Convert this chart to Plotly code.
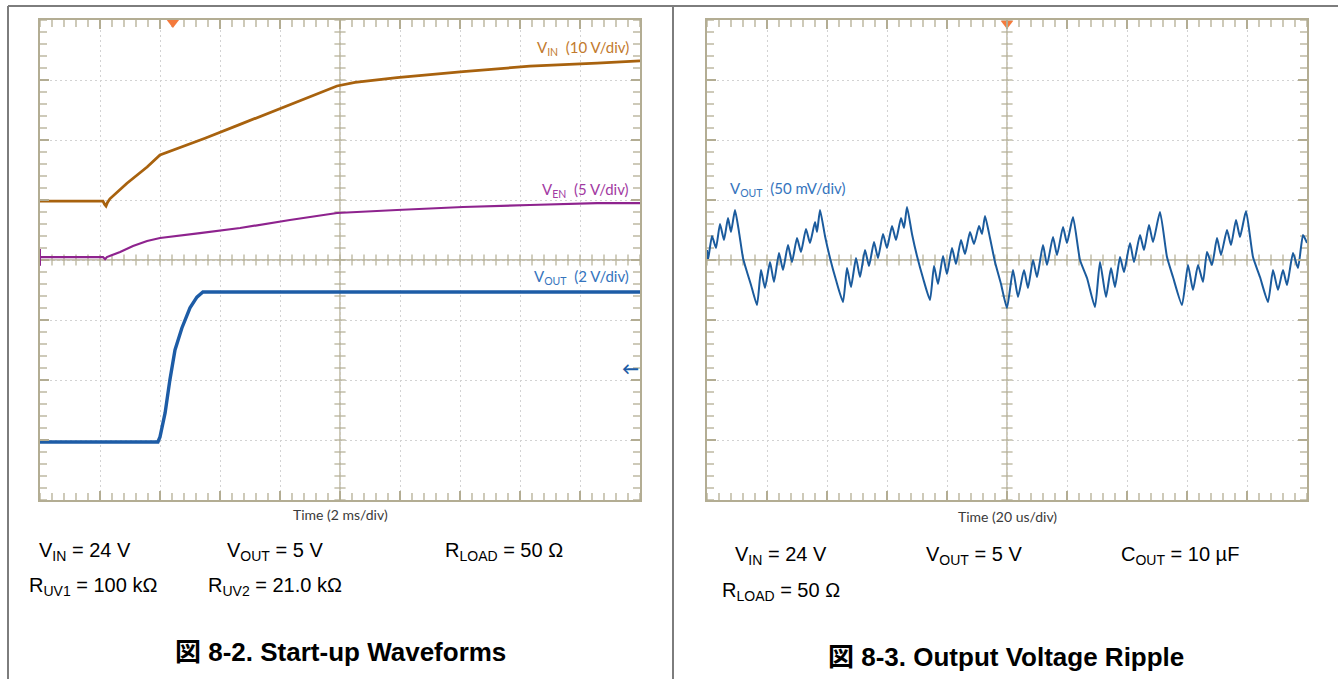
import numpy as np
import plotly.graph_objects as go

W, H = 1338, 679

# ---------------- Start-up capture (time in ms, volts) ----------------
vin_t = [0.0, 2.1, 2.15, 2.2, 2.25, 2.33, 2.9, 3.57, 4.0, 4.33, 5.5, 6.67, 8.3, 9.9,
         10.5, 11.9, 14.1, 16.33, 18.57, 20.0]
vin_v = [0.8, 0.8, 0.3, 0.0, 0.6, 1.2, 3.8, 6.5, 8.5, 9.1, 11.3, 13.6, 16.85, 20.0,
         20.6, 21.4, 22.4, 23.3, 23.8, 24.2]

ven_t = [0.0, 2.1, 2.17, 2.23, 2.67, 3.1, 3.57, 4.0, 5.33, 6.67, 8.33, 9.9,
         11.9, 14.1, 16.33, 18.57, 20.0]
ven_v = [0.08, 0.08, -0.1, 0.08, 0.5, 1.0, 1.42, 1.67, 2.08, 2.5, 3.17, 3.75,
         4.0, 4.25, 4.42, 4.58, 4.58]

vout_t = [0.0, 3.93, 4.0, 4.17, 4.33, 4.5, 4.73, 5.0, 5.23, 5.43, 20.0]
vout_v = [0.0, 0.0, 0.17, 0.97, 2.07, 3.07, 3.8, 4.47, 4.83, 5.0, 5.0]

# channel settings: volts per division and ground level (divisions from bottom)
VIN_SCALE, VIN_POS = 10.0, 4.9
VEN_SCALE, VEN_POS = 5.0, 4.033
VOUT_SCALE, VOUT_POS = 2.0, 0.967

# ---------------- Ripple capture (time in us, AC-coupled mV) ----------------
rip_t = [0.0, 0.33, 1.67, 3.0, 4.33, 5.67, 7.0, 8.0, 9.33, 10.67, 12.0, 13.33, 14.67, 16.67,
         18.0, 19.33, 21.0, 22.33, 24.0, 25.33, 27.0, 28.33, 30.0, 31.33, 33.0, 34.33, 36.0,
         36.67, 37.67, 39.33, 41.0, 43.0, 45.33,
         46.67, 48.0, 49.67, 51.0, 52.67, 54.0, 55.67, 57.0, 58.67, 60.0, 61.67, 63.0, 64.67,
         65.67, 66.67, 68.33, 70.0, 72.0, 74.33,
         75.67, 77.0, 78.67, 80.0, 81.67, 83.0, 84.67, 86.0, 87.67, 89.0, 90.67, 91.67, 92.67,
         94.33, 96.0, 98.0, 100.0,
         102.0, 103.67, 105.67, 107.0, 108.67, 110.0, 112.0, 113.33, 115.33, 116.67, 118.67,
         120.0, 122.0, 124.33, 126.67, 129.33,
         131.0, 133.0, 134.67, 136.0, 137.67, 139.0, 141.0, 142.33, 144.33, 145.67, 147.33,
         148.67, 151.0, 153.33, 155.33, 158.33,
         160.33, 162.0, 163.67, 165.33, 166.67, 168.33, 170.0, 171.33, 173.33, 174.67, 176.33,
         177.67, 179.67, 182.0, 184.33, 187.0,
         188.67, 190.33, 192.0, 193.33, 195.33, 197.0, 198.67, 200.0]
rip_mv = [8.3, 0.0, 20.0, 10.0, 30.0, 16.7, 35.0, 23.3, 41.7, 23.3, 1.7, -10.0, -20.8, -37.5,
          -8.3, -23.3, -1.7, -18.3, 5.8, -8.3, 12.5, -1.7, 18.3, 6.7, 25.8, 14.2, 31.7,
          23.3, 41.7, 20.0, 1.7, -16.7, -35.0,
          -6.7, -22.5, 1.7, -14.2, 8.3, -5.0, 15.0, 1.7, 21.7, 10.0, 28.3, 16.7, 35.0,
          26.7, 44.2, 21.7, 3.3, -15.0, -33.3,
          -5.0, -20.0, 3.3, -11.7, 10.0, -3.3, 16.7, 5.0, 23.3, 13.3, 28.3, 21.7, 36.7,
          18.3, -1.7, -20.0, -40.0,
          -8.3, -30.8, -8.3, -23.3, 0.0, -14.2, 12.5, -4.2, 19.2, 4.2, 27.5,
          14.2, 35.8, 0.0, -15.0, -39.2,
          -1.7, -30.8, -6.7, -22.5, 2.5, -10.0, 14.2, -1.7, 20.8, 8.3, 29.2,
          15.0, 40.0, 2.5, -14.2, -37.5,
          -4.2, -25.0, -4.2, -18.3, 6.7, -4.2, 18.3, 4.2, 25.0, 12.5, 33.3,
          19.2, 40.8, 2.5, -14.2, -35.0,
          -8.3, -25.0, -8.3, -20.8, 5.8, -6.7, 20.8, 14.2]

# ---------------- styling ----------------
FRAME = "#b3ad93"
GRID = "#d2d2d2"
C_VIN, C_VIN_TXT = "#a8620e", "#c27a2e"
C_VEN, C_VEN_TXT = "#8e238e", "#a23aa2"
C_VOUT, C_VOUT_TXT = "#1d5ca6", "#3574bd"
C_RIP = "#1b5b9d"
TRIG = "#f47a3c"
SCOPE_FONT = "Lato, Open Sans, sans-serif"
BODY_FONT = "Liberation Sans, Arial, Noto Sans CJK JP, sans-serif"


def px(x):
    return x / W


def py(y):
    return 1 - y / H


def to_div(values, scale, pos):
    return [pos + v / scale for v in values]


def scope_axis(rng, dtick, domain, anchor):
    return dict(
        range=rng, domain=domain, anchor=anchor, dtick=dtick, tick0=rng[0],
        showgrid=True, gridcolor=GRID, griddash="2px,3px", gridwidth=1,
        showline=True, linecolor=FRAME, linewidth=2, mirror="allticks",
        ticks="inside", ticklen=9, tickwidth=1.5, tickcolor=FRAME,
        showticklabels=False, zeroline=False, fixedrange=True,
    )


fig = go.Figure()


def graduations(xa, ya, xr, yr, xminor, yminor):
    """Minor graduation marks on the screen border and on the centre cross."""
    xs = np.arange(xr[0], xr[1] + xminor / 2, xminor)
    ys = np.arange(yr[0], yr[1] + yminor / 2, yminor)
    xc, yc = (xr[0] + xr[1]) / 2, (yr[0] + yr[1]) / 2
    # border marks: centred on the edge, the outer half is clipped away
    bx = np.concatenate([xs, xs])
    by = np.concatenate([np.full(len(xs), yr[0]), np.full(len(xs), yr[1])])
    fig.add_trace(go.Scatter(x=bx, y=by, mode="markers", xaxis=xa, yaxis=ya, cliponaxis=True,
                             marker=dict(symbol="line-ns", size=10,
                                         line=dict(color=FRAME, width=1.3)),
                             hoverinfo="skip", showlegend=False))
    lx = np.concatenate([np.full(len(ys), xr[0]), np.full(len(ys), xr[1])])
    ly = np.concatenate([ys, ys])
    fig.add_trace(go.Scatter(x=lx, y=ly, mode="markers", xaxis=xa, yaxis=ya, cliponaxis=True,
                             marker=dict(symbol="line-ew", size=10,
                                         line=dict(color=FRAME, width=1.3)),
                             hoverinfo="skip", showlegend=False))
    # centre cross marks
    fig.add_trace(go.Scatter(x=xs, y=np.full(len(xs), yc), mode="markers", xaxis=xa, yaxis=ya,
                             marker=dict(symbol="line-ns", size=8,
                                         line=dict(color=FRAME, width=1.2)),
                             hoverinfo="skip", showlegend=False))
    fig.add_trace(go.Scatter(x=np.full(len(ys), xc), y=ys, mode="markers", xaxis=xa, yaxis=ya,
                             marker=dict(symbol="line-ew", size=8,
                                         line=dict(color=FRAME, width=1.2)),
                             hoverinfo="skip", showlegend=False))


graduations("x", "y", (0, 20), (0, 8), 0.4, 0.2)
graduations("x2", "y2", (0, 200), (-200, 200), 4.0, 10.0)

# start-up waveforms
fig.add_trace(go.Scatter(x=vin_t, y=to_div(vin_v, VIN_SCALE, VIN_POS), mode="lines",
                         line=dict(color=C_VIN, width=2.8), xaxis="x", yaxis="y",
                         name="VIN", showlegend=False))
fig.add_trace(go.Scatter(x=ven_t, y=to_div(ven_v, VEN_SCALE, VEN_POS), mode="lines",
                         line=dict(color=C_VEN, width=2.2), xaxis="x", yaxis="y",
                         name="VEN", showlegend=False))
fig.add_trace(go.Scatter(x=vout_t, y=to_div(vout_v, VOUT_SCALE, VOUT_POS), mode="lines",
                         line=dict(color=C_VOUT, width=3.4), xaxis="x", yaxis="y",
                         name="VOUT", showlegend=False))

# ripple waveform
fig.add_trace(go.Scatter(x=rip_t, y=rip_mv, mode="lines",
                         line=dict(color=C_RIP, width=2.0, shape="spline", smoothing=0.5),
                         xaxis="x2", yaxis="y2", name="VOUT ripple", showlegend=False))

# trigger position markers
fig.add_trace(go.Scatter(x=[4.43], y=[7.96], mode="markers", xaxis="x", yaxis="y",
                         marker=dict(symbol="triangle-down", size=11, color=TRIG),
                         cliponaxis=False, hoverinfo="skip", showlegend=False))
fig.add_trace(go.Scatter(x=[100.0], y=[197.0], mode="markers", xaxis="x2", yaxis="y2",
                         marker=dict(symbol="triangle-down", size=11, color=TRIG),
                         cliponaxis=False, hoverinfo="skip", showlegend=False))

shapes = [
    # outer frame and panel divider
    dict(type="line", xref="paper", yref="paper", x0=px(8), x1=1, y0=py(6), y1=py(6),
         line=dict(color="#7d7d7d", width=2)),
    dict(type="line", xref="paper", yref="paper", x0=px(8), x1=px(8), y0=0, y1=py(6),
         line=dict(color="#7d7d7d", width=2)),
    dict(type="line", xref="paper", yref="paper", x0=px(673), x1=px(673), y0=0, y1=py(6),
         line=dict(color="#7d7d7d", width=2)),
    # centre cross lines
    dict(type="line", xref="x", yref="y domain", x0=10, x1=10, y0=0, y1=1,
         line=dict(color=FRAME, width=1.3), layer="below"),
    dict(type="line", xref="x domain", yref="y", x0=0, x1=1, y0=4, y1=4,
         line=dict(color=FRAME, width=1.3), layer="below"),
    dict(type="line", xref="x2", yref="y2 domain", x0=100, x1=100, y0=0, y1=1,
         line=dict(color=FRAME, width=1.3), layer="below"),
    dict(type="line", xref="x2 domain", yref="y2", x0=0, x1=1, y0=0, y1=0,
         line=dict(color=FRAME, width=1.3), layer="below"),
    # EN channel ground marker on left edge
    dict(type="line", xref="x", yref="y", x0=0, x1=0, y0=VEN_POS - 0.13, y1=VEN_POS + 0.15,
         line=dict(color=C_VEN, width=2)),
]

ann = []


def label(x, y, text, color, size=15, xanchor="right", xref="x", yref="y"):
    ann.append(dict(x=x, y=y, xref=xref, yref=yref, text=text, showarrow=False,
                    xanchor=xanchor, yanchor="middle",
                    font=dict(family=SCOPE_FONT, size=size, color=color)))


label(19.7, 7.53, "V<sub>IN</sub>  (10 V/div)", C_VIN_TXT)
label(19.7, 5.17, "V<sub>EN</sub>  (5 V/div)", C_VEN_TXT)
label(19.7, 3.72, "V<sub>OUT</sub>  (2 V/div)", C_VOUT_TXT)
label(7.0, 59.0, "V<sub>OUT</sub>  (50 mV/div)", C_VOUT_TXT, xanchor="left",
      xref="x2", yref="y2")
label(19.67, 2.2, "<b>←</b>", C_VOUT, size=17, xanchor="center")

label(px(340), py(514), "Time (2 ms/div)", "#3a3a3a", size=14, xanchor="center",
      xref="paper", yref="paper")
label(px(1007), py(516), "Time (20 us/div)", "#3a3a3a", size=14, xanchor="center",
      xref="paper", yref="paper")


def body(xc, yc, text, size=20, bold=False):
    ann.append(dict(x=px(xc), y=py(yc), xref="paper", yref="paper",
                    text=f"<b>{text}</b>" if bold else text, showarrow=False,
                    xanchor="center", yanchor="middle",
                    font=dict(family=BODY_FONT, size=size, color="#000000")))


body(85, 551, "V<sub>IN</sub> = 24 V")
body(275, 551, "V<sub>OUT</sub> = 5 V")
body(504, 551, "R<sub>LOAD</sub> = 50 Ω")
body(93, 586, "R<sub>UV1</sub> = 100 kΩ")
body(275, 586, "R<sub>UV2</sub> = 21.0 kΩ")
body(341, 652, "図 8-2. Start-up Waveforms", size=26, bold=True)

body(781, 555, "V<sub>IN</sub> = 24 V")
body(974, 555, "V<sub>OUT</sub> = 5 V")
body(1180, 555, "C<sub>OUT</sub> = 10 µF")
body(781, 591, "R<sub>LOAD</sub> = 50 Ω")
body(1006, 657, "図 8-3. Output Voltage Ripple", size=26, bold=True)

fig.update_layout(
    width=W, height=H, margin=dict(l=0, r=0, t=0, b=0),
    paper_bgcolor="white", plot_bgcolor="white", showlegend=False,
    xaxis=scope_axis([0, 20], 2, [px(40), px(640)], "y"),
    yaxis=scope_axis([0, 8], 1, [py(500), py(20)], "x"),
    xaxis2=scope_axis([0, 200], 20, [px(707), px(1307)], "y2"),
    yaxis2=scope_axis([-200, 200], 50, [py(500), py(20)], "x2"),
    shapes=shapes, annotations=ann,
)

fig.write_html("out.html")
